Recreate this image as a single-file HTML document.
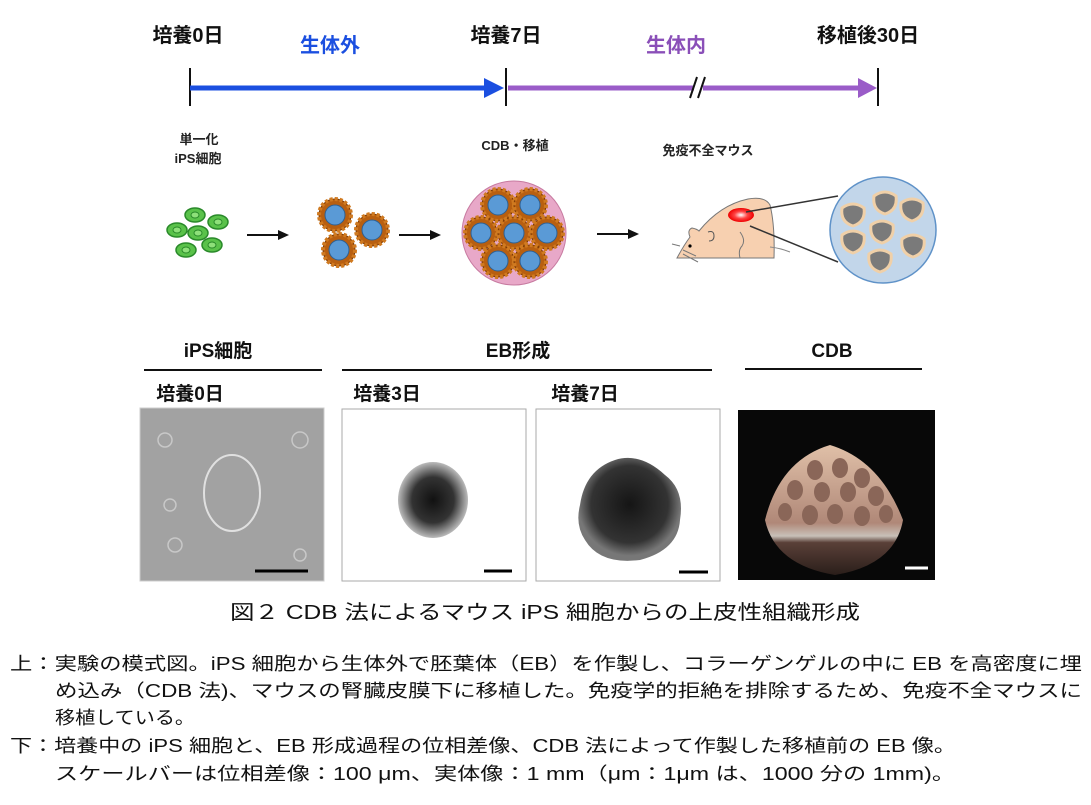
<!DOCTYPE html>
<html><head><meta charset="utf-8"><style>
html,body{margin:0;padding:0;background:#fff;}
svg{display:block;}
text{font-family:"Liberation Sans","Noto Sans CJK JP",sans-serif;}
.b{font-weight:bold;}
</style></head><body>
<svg width="1091" height="805" viewBox="0 0 1091 805" xmlns="http://www.w3.org/2000/svg">
<defs>
<radialGradient id="eb3" cx="50%" cy="50%" r="50%"><stop offset="0" stop-color="#111"/><stop offset="0.6" stop-color="#333"/><stop offset="0.85" stop-color="#888"/><stop offset="1" stop-color="#bbb"/></radialGradient>
<radialGradient id="eb7" cx="50%" cy="45%" r="50%"><stop offset="0" stop-color="#151515"/><stop offset="0.75" stop-color="#333"/><stop offset="1" stop-color="#777"/></radialGradient>
<linearGradient id="cdb" x1="0" y1="0" x2="0" y2="1"><stop offset="0" stop-color="#e0c0a8"/><stop offset="0.6" stop-color="#b08878"/><stop offset="0.7" stop-color="#c8c0b8"/><stop offset="0.75" stop-color="#5a4038"/><stop offset="1" stop-color="#2a1e1a"/></linearGradient>
<radialGradient id="red" cx="50%" cy="50%" r="50%"><stop offset="0" stop-color="#fff"/><stop offset="0.5" stop-color="#f44"/><stop offset="1" stop-color="#e00"/></radialGradient>
<g id="eb"><circle r="16" fill="#b85f10" stroke="#7a3a05" stroke-width="1"/><circle r="16" fill="none" stroke="#d07a20" stroke-width="4" stroke-dasharray="3 2"/><circle r="10" fill="#5a9ad6" stroke="#2f5f90"/></g>
<g id="cell"><ellipse rx="10" ry="7" fill="#5ac24a" stroke="#2a8a2a" stroke-width="1.5"/><ellipse rx="4" ry="3" fill="#8ee07a" stroke="#2a8a2a"/></g>
<g id="blob"><path d="M-11,-7 Q0,-15 11,-7 Q13,7 0,11 Q-13,7 -11,-7Z" fill="#7a7a7a" stroke="#f0d0a8" stroke-width="3"/></g>
</defs>

<g class="b" font-size="20" text-anchor="middle" fill="#111">
<text x="188" y="42">培養0日</text>
<text x="506" y="42">培養7日</text>
<text x="868" y="42">移植後30日</text>
</g>
<text x="330" y="52" font-size="20" class="b" text-anchor="middle" fill="#1b4fe0">生体外</text>
<text x="676" y="52" font-size="20" class="b" text-anchor="middle" fill="#8a4fb8">生体内</text>
<line x1="190" y1="68" x2="190" y2="106" stroke="#111" stroke-width="2"/>
<line x1="506" y1="68" x2="506" y2="106" stroke="#111" stroke-width="2"/>
<line x1="878" y1="68" x2="878" y2="106" stroke="#111" stroke-width="2"/>
<line x1="190" y1="88" x2="486" y2="88" stroke="#1b4fe0" stroke-width="5"/>
<polygon points="484,78 504,88 484,98" fill="#1b4fe0"/>
<line x1="508" y1="88" x2="860" y2="88" stroke="#9a5cc8" stroke-width="5"/>
<polygon points="858,78 877,88 858,98" fill="#9a5cc8"/>
<rect x="694" y="80" width="9" height="16" fill="#fff"/>
<line x1="690" y1="98" x2="697" y2="77" stroke="#111" stroke-width="2"/>
<line x1="698" y1="98" x2="705" y2="77" stroke="#111" stroke-width="2"/>

<g font-size="13" class="b" text-anchor="middle" fill="#222">
<text x="199" y="144">単一化</text>
<text x="198" y="163">iPS細胞</text>
<text x="515" y="150">CDB・移植</text>
<text x="708" y="155">免疫不全マウス</text>
</g>

<use href="#cell" x="177" y="230"/><use href="#cell" x="195" y="215"/><use href="#cell" x="218" y="222"/>
<use href="#cell" x="198" y="233"/><use href="#cell" x="186" y="250"/><use href="#cell" x="212" y="245"/>
<g stroke="#111" stroke-width="2"><line x1="247" y1="235" x2="280" y2="235"/><line x1="399" y1="235" x2="432" y2="235"/><line x1="597" y1="234" x2="630" y2="234"/></g>
<g fill="#111"><polygon points="278,230 289,235 278,240"/><polygon points="430,230 441,235 430,240"/><polygon points="628,229 639,234 628,239"/></g>
<use href="#eb" x="335" y="215"/><use href="#eb" x="372" y="230"/><use href="#eb" x="339" y="250"/>
<circle cx="514" cy="233" r="52" fill="#e8a8c8" stroke="#c77aa0"/>
<use href="#eb" x="498" y="205"/><use href="#eb" x="530" y="205"/><use href="#eb" x="481" y="233"/>
<use href="#eb" x="514" y="233"/><use href="#eb" x="547" y="233"/><use href="#eb" x="498" y="261"/><use href="#eb" x="530" y="261"/>

<!-- mouse -->
<path d="M677,258 Q684,245 690,237 Q687,230 692,228 Q697,229 699,231 Q720,205 748,199 Q765,196 770,205 Q775,225 774,258 Z" fill="#f7d0b0" stroke="#777"/>
<path d="M740,232 Q746,240 742,246 Q738,250 740,258" fill="none" stroke="#777"/>
<path d="M708,232 q6,-2 6,4 q0,5 -5,5" fill="none" stroke="#555"/>
<circle cx="690" cy="246" r="1.6" fill="#000"/>
<g stroke="#777" stroke-width="1"><line x1="683" y1="250" x2="696" y2="256"/><line x1="683" y1="254" x2="698" y2="262"/><line x1="680" y1="246" x2="672" y2="244"/></g>
<path d="M770,247 Q780,248 790,252" fill="none" stroke="#888"/>
<ellipse cx="741" cy="215" rx="13" ry="7" fill="url(#red)"/>
<line x1="746" y1="212" x2="838" y2="196" stroke="#333" stroke-width="1.5"/>
<line x1="750" y1="226" x2="838" y2="262" stroke="#333" stroke-width="1.5"/>
<circle cx="883" cy="230" r="53" fill="#c2d6ea" stroke="#5f92c8" stroke-width="1.5"/>
<use href="#blob" x="885" y="203"/><use href="#blob" x="912" y="210"/><use href="#blob" x="853" y="215"/>
<use href="#blob" x="882" y="232"/><use href="#blob" x="853" y="242"/><use href="#blob" x="913" y="246"/><use href="#blob" x="880" y="261"/>

<g class="b" font-size="19" text-anchor="middle" fill="#111">
<text x="218" y="357">iPS細胞</text><text x="518" y="357">EB形成</text><text x="832" y="357">CDB</text>
<text x="190" y="400">培養0日</text><text x="387" y="400">培養3日</text><text x="585" y="400">培養7日</text>
</g>
<g stroke="#111" stroke-width="2"><line x1="144" y1="370" x2="322" y2="370"/><line x1="342" y1="370" x2="712" y2="370"/><line x1="745" y1="369" x2="922" y2="369"/></g>

<rect x="140" y="408" width="184" height="173" fill="#a2a2a2" stroke="#ccc"/>
<g fill="none" stroke="#c8c8c8" stroke-width="1.5">
<ellipse cx="232" cy="493" rx="28" ry="38" stroke="#e0e0e0" stroke-width="2"/>
<circle cx="165" cy="440" r="7"/><circle cx="300" cy="440" r="8"/><circle cx="170" cy="505" r="6"/><circle cx="175" cy="545" r="7"/><circle cx="300" cy="555" r="6"/>
</g>
<line x1="255" y1="571" x2="308" y2="571" stroke="#000" stroke-width="3"/>
<rect x="342" y="409" width="184" height="172" fill="#fff" stroke="#aaa"/>
<ellipse cx="433" cy="500" rx="35" ry="38" fill="url(#eb3)"/>
<line x1="484" y1="571" x2="512" y2="571" stroke="#000" stroke-width="3"/>
<rect x="536" y="409" width="184" height="172" fill="#fff" stroke="#aaa"/>
<path d="M580,505 Q585,470 615,460 Q640,452 665,475 Q685,490 680,520 Q678,550 640,560 Q600,565 585,540 Q575,525 580,505Z" fill="url(#eb7)"/>
<line x1="679" y1="572" x2="708" y2="572" stroke="#000" stroke-width="3"/>
<rect x="738" y="410" width="197" height="170" fill="#080808"/>
<path d="M765,520 Q780,460 830,445 Q880,460 903,520 Q895,565 835,575 Q775,565 765,520Z" fill="url(#cdb)"/>
<g fill="#8a6658">
<ellipse cx="815" cy="470" rx="8" ry="10"/><ellipse cx="840" cy="468" rx="8" ry="10"/><ellipse cx="862" cy="478" rx="8" ry="10"/>
<ellipse cx="795" cy="490" rx="8" ry="10"/><ellipse cx="822" cy="492" rx="8" ry="10"/><ellipse cx="848" cy="492" rx="8" ry="10"/><ellipse cx="876" cy="496" rx="8" ry="10"/>
<ellipse cx="785" cy="512" rx="7" ry="9"/><ellipse cx="810" cy="515" rx="8" ry="10"/><ellipse cx="835" cy="514" rx="8" ry="10"/><ellipse cx="862" cy="516" rx="8" ry="10"/><ellipse cx="886" cy="514" rx="7" ry="9"/>
</g>
<line x1="905" y1="568" x2="928" y2="568" stroke="#fff" stroke-width="3"/>

<text x="545" y="619" font-size="20" text-anchor="middle" fill="#111" textLength="630" lengthAdjust="spacingAndGlyphs">図２ CDB 法によるマウス iPS 細胞からの上皮性組織形成</text>

<g font-size="18" fill="#111">
<text x="10" y="670" textLength="1072" lengthAdjust="spacingAndGlyphs">上：実験の模式図。iPS 細胞から生体外で胚葉体（EB）を作製し、コラーゲンゲルの中に EB を高密度に埋</text>
<text x="55" y="697" textLength="1027" lengthAdjust="spacingAndGlyphs">め込み（CDB 法)、マウスの腎臓皮膜下に移植した。免疫学的拒絶を排除するため、免疫不全マウスに</text>
<text x="55" y="724" textLength="140" lengthAdjust="spacingAndGlyphs">移植している。</text>
<text x="10" y="752" textLength="946" lengthAdjust="spacingAndGlyphs">下：培養中の iPS 細胞と、EB 形成過程の位相差像、CDB 法によって作製した移植前の EB 像。</text>
<text x="55" y="780" textLength="900" lengthAdjust="spacingAndGlyphs">スケールバーは位相差像：100 μm、実体像：1 mm（μm：1μm は、1000 分の 1mm)。</text>
</g>
</svg>
</body></html>
